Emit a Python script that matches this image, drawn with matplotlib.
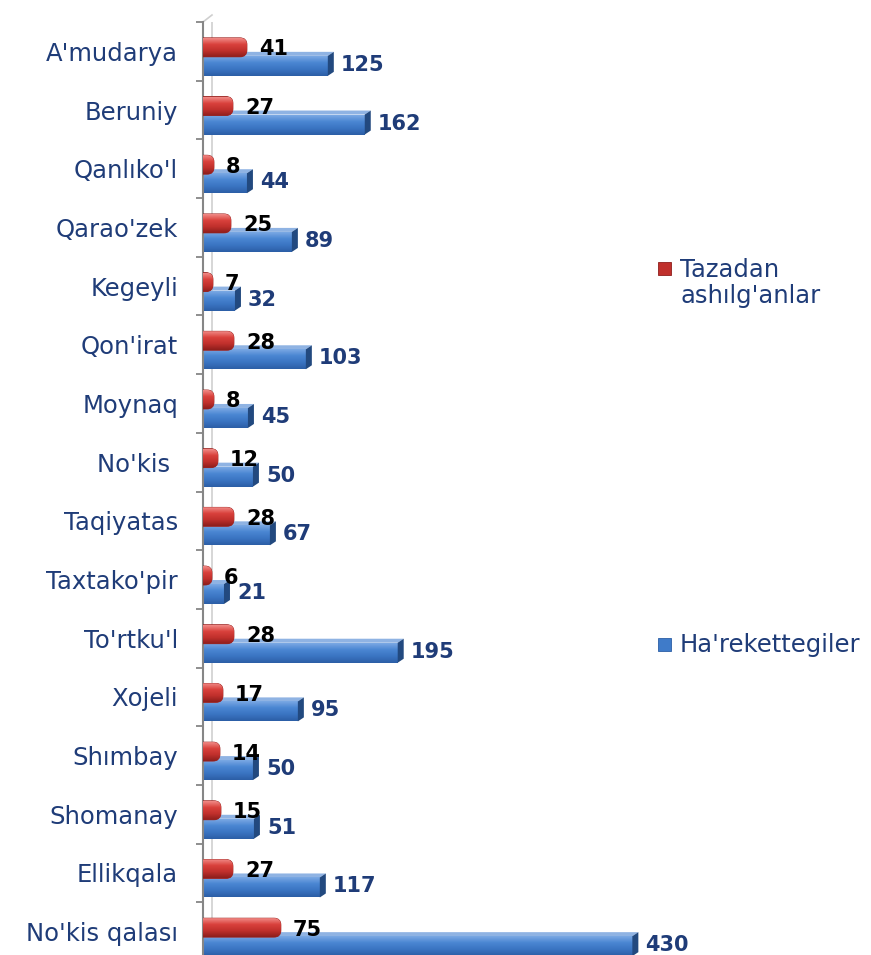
import numpy as np
import matplotlib.pyplot as plt
from matplotlib.patches import FancyBboxPatch, Polygon, Rectangle
from matplotlib.colors import LinearSegmentedColormap

# data
regions = ["A'mudarya", "Beruniy", "Qanlıko'l", "Qarao'zek", "Kegeyli", "Qon'irat",
           "Moynaq", "No'kis ", "Taqiyatas", "Taxtako'pir", "To'rtku'l", "Xojeli",
           "Shımbay", "Shomanay", "Ellikqala", "No'kis qalası"]
tazadan = [41, 27, 8, 25, 7, 28, 8, 12, 28, 6, 28, 17, 14, 15, 27, 75]
harekettegiler = [125, 162, 44, 89, 32, 103, 45, 50, 67, 21, 195, 95, 50, 51, 117, 430]
series_names = ["Tazadan\nashılg'anlar", "Ha'rekettegiler"]

navy = '#1F3C78'
plt.rcParams['font.family'] = ['DejaVu Sans']

fig = plt.figure(figsize=(8.71, 9.55), dpi=100)
ax = fig.add_axes([203 / 871, -6 / 955, 668 / 871, 939 / 955])

xmax = 669
ax.set_xlim(0, xmax)
ax.set_ylim(15.5, -0.5)

px_y = 1 / 58.7          # one pixel in y data units
px_x = xmax / 668        # one pixel in x data units
aspect = px_y / px_x

pos = np.arange(len(regions))
red_y = pos - 4 * px_y
red_h = 19 * px_y
blue_y = pos + 14.5 * px_y
blue_h = 20 * px_y

blue_cmap = LinearSegmentedColormap.from_list('b', ['#7AA8E4', '#4A86D2', '#3A74C2', '#2C5EA6'])
red_cmap = LinearSegmentedColormap.from_list('r', ['#F08A86', '#D9413C', '#C0302C', '#8E1E1C'])
grad = np.linspace(0, 1, 64).reshape(-1, 1)

# blue bars (3D boxes)
dx, dy = 6 * px_x, 4 * px_y
bars_b = ax.barh(blue_y, harekettegiler, height=blue_h, color='#3A74C2', zorder=2)
for b in bars_b:
    x0, y0, w, h = b.get_x(), b.get_y(), b.get_width(), b.get_height()
    top, bot = y0, y0 + h
    ax.add_patch(Polygon([(x0, top), (w, top), (w + dx, top - dy), (x0 + dx, top - dy)],
                         closed=True, color='#8FB3E3', zorder=1.9, lw=0))
    ax.add_patch(Polygon([(w, top), (w, bot), (w + dx, bot - dy), (w + dx, top - dy)],
                         closed=True, color='#22497F', zorder=2.1, lw=0))
    im = ax.imshow(grad, cmap=blue_cmap, extent=(x0, w, bot, top), origin='upper',
                   aspect='auto', zorder=2.05)
    im.set_clip_path(b)

# red bars (rounded)
cap = 3 * px_x
r = 7 * px_x
bars_r = ax.barh(red_y, tazadan, height=red_h, color='none', zorder=3)
for b in bars_r:
    x0, y0, w, h = b.get_x(), b.get_y(), b.get_width(), b.get_height()
    p = FancyBboxPatch((x0 - r, y0), w + r + cap, h,
                       boxstyle='round,pad=0,rounding_size=%f' % r,
                       mutation_aspect=aspect, facecolor='#C0302C',
                       edgecolor='#9A2421', lw=0.6, zorder=3)
    ax.add_patch(p)
    im = ax.imshow(grad, cmap=red_cmap, extent=(x0 - r, w + cap, y0 + h, y0), origin='upper',
                   aspect='auto', zorder=3.05)
    im.set_clip_path(p)

ax.set_xlim(0, xmax)
ax.set_ylim(15.5, -0.5)

# value labels
for y, v in zip(red_y, tazadan):
    ax.text(v + 15 * px_x, y + 2 * px_y, str(v), ha='left', va='center',
            fontsize=15, fontweight='bold', color='black', zorder=5)
for y, v in zip(blue_y, harekettegiler):
    ax.text(v + 13 * px_x, y - 1 * px_y, str(v), ha='left', va='center',
            fontsize=15, fontweight='bold', color=navy, zorder=5)

# axes styling
for s in ['top', 'right', 'bottom']:
    ax.spines[s].set_visible(False)
ax.spines['left'].set_color('#868686')
ax.spines['left'].set_linewidth(1.5)
ax.set_xticks([])
ax.set_yticks(np.arange(-0.5, 16, 1))
ax.set_yticklabels([])
ax.tick_params(axis='y', which='major', length=5, width=1.3, color='#868686')
ax.set_yticks(pos, minor=True)
ax.set_yticklabels(regions, minor=True)
ax.tick_params(axis='y', which='minor', length=0, pad=18, labelsize=17.5, labelcolor=navy)

# back wall line
ax.axvline(9 * px_x, color='#CFCFCF', lw=1.2, zorder=0.5)
ax.plot([0, 9 * px_x], [-0.5, -0.5 - 7 * px_y], color='#CFCFCF', lw=1.2, clip_on=False)

# legend
colors = ['#C0302C', '#3F7BC9']
edges = ['#8E1E1C', '#2C5EA6']
leg_y = [1 - 283 / 955, 1 - 645 / 955]
sq_y = [1 - 268.5 / 955, 1 - 644.5 / 955]
for name, c, e, ty, sy in zip(series_names, colors, edges, leg_y, sq_y):
    fig.patches.append(Rectangle((658 / 871, sy - 6.5 / 955), 13 / 871, 13 / 955,
                                 transform=fig.transFigure, facecolor=c, edgecolor=e, lw=0.6))
    fig.text(680 / 871, ty, name, ha='left', va='center', fontsize=17.5,
             color=navy, linespacing=1.1)

fig.savefig('out.png', dpi=100)
